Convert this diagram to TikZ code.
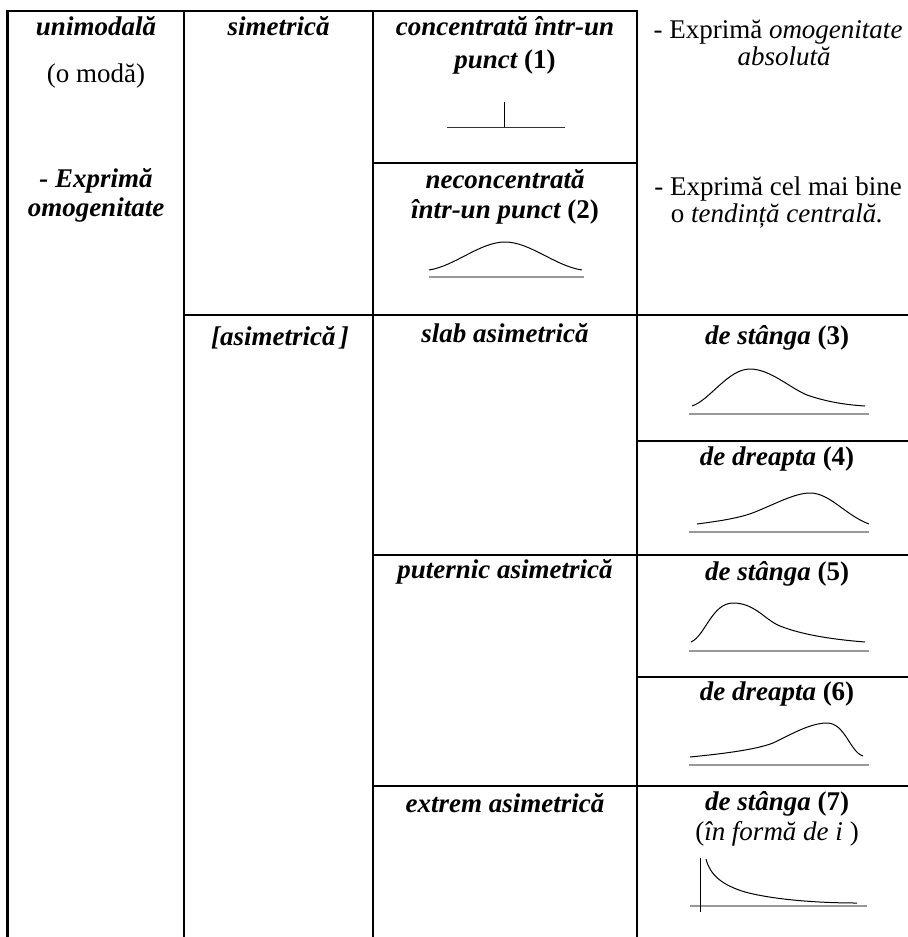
\documentclass[tikz,border=0pt]{standalone}
\usepackage{fontspec}
\setmainfont{Liberation Serif}
\usepackage{tikz}
\tikzset{%
  tline/.style={line width=1.2pt,line cap=rect},
  curv/.style={line width=0.5pt},
  baseln/.style={draw=black!40,line width=0.6pt},
  bi/.style={font=\fontsize{13.5}{16}\selectfont\bfseries\itshape},
  rm/.style={font=\fontsize{13.5}{16}\selectfont}
}
\begin{document}
\begin{tikzpicture}[x=0.5pt,y=-0.5pt,every node/.style={inner sep=0,anchor=base}]
      \useasboundingbox (0,0) rectangle (908,937);
      % table rules
      \draw[tline] (7.5,937) -- (7.5,11) -- (637,11) -- (637,937);
      \foreach \x in {184,373}
        \draw[tline] (\x,11) -- (\x,937);
      \draw[tline] (373,163) -- (637,163);
      \draw[tline] (184,315) -- (908,315);
      \draw[tline] (637,441) -- (908,441);
      \draw[tline] (373,555) -- (908,555);
      \draw[tline] (637,677) -- (908,677);
      \draw[tline] (373,786) -- (908,786);
      \path
        (96,35) node (unimod)[bi]{unimodală}
        (96,82) node (omoda)[rm]{(o modă)}
        (96,187) node (expr)[bi]{- Exprimă}
        (96,216) node (omog)[bi]{omogenitate}
        (278.5,35) node (simetr)[bi]{simetrică}
        (280,345) node (asimetr)[bi]{[asimetrică\,]}
        (505,35) node (conc)[bi]{concentrată într-un}
        (505,68) node (punct)[bi]{punct {\upshape(1)}}
        (505,188) node (neconc)[bi]{neconcentrată}
        (505,218) node (intr)[bi]{într-un punct {\upshape(2)}}
        (505,342) node (slab)[bi]{slab asimetrică}
        (505,578) node (puternic)[bi]{puternic asimetrică}
        (505,812) node (extrem)[bi]{extrem asimetrică}
        (778,39) node (absa)[rm]{- Exprimă \textit{omogenitate}}
        (784,65) node (absb)[rm]{\textit{absolută}}
        (778,195) node (tenda)[rm]{- Exprimă cel mai bine}
        (777,222) node (tendb)[rm]{o \textit{tendință centrală.}}
        (777,344) node (st3)[bi]{de stânga {\upshape(3)}}
        (777,465) node (dr4)[bi]{de dreapta {\upshape(4)}}
        (777,580) node (st5)[bi]{de stânga {\upshape(5)}}
        (777,700) node (dr6)[bi]{de dreapta {\upshape(6)}}
        (777,810) node (st7)[bi]{de stânga {\upshape(7)}}
        (777,840) node (forma)[rm]{(\textit{în formă de i} )};
      % (1)
      \draw[curv,black!80] (447,127) -- (565,127);
      \draw[curv] (504,102) -- (504,127);
      % (2)
      \draw[baseln] (429,277) -- (584,277);
      \draw[curv] (429,270) .. controls (455,266) and (480,242) .. (505,242)
        .. controls (530,242) and (555,266) .. (582,270);
      % (3)
      \draw[baseln] (689,414) -- (869,414);
      \draw[curv] (692,406) .. controls (710,400) and (728,369) .. (750,369)
        .. controls (770,369) and (790,388) .. (807,395)
        .. controls (830,403) and (850,405) .. (865,406);
      % (4)
      \draw[baseln] (689,532) -- (869,532);
      \draw[curv] (697,524) .. controls (720,521) and (740,518) .. (755,512)
        .. controls (775,504) and (795,493) .. (810,493)
        .. controls (830,493) and (845,515) .. (869,524);
      % (5)
      \draw[baseln] (689,651) -- (869,651);
      \draw[curv] (691,642) .. controls (705,636) and (712,603) .. (733,603)
        .. controls (755,603) and (765,620) .. (780,626)
        .. controls (805,636) and (840,640) .. (865,642);
      % (6)
      \draw[baseln] (689,765) -- (869,765);
      \draw[curv] (690,757) .. controls (720,754) and (755,750) .. (773,743)
        .. controls (790,735) and (810,723) .. (827,723)
        .. controls (845,723) and (850,752) .. (863,756);
      % (7)
      \draw[baseln] (690,906) -- (867,906);
      \draw[curv] (700,858) -- (700,912);
      \draw[curv] (706,859) .. controls (710,875) and (722,885) .. (745,892)
        .. controls (775,900) and (820,903) .. (857,903);
    \end{tikzpicture}
\end{document}
